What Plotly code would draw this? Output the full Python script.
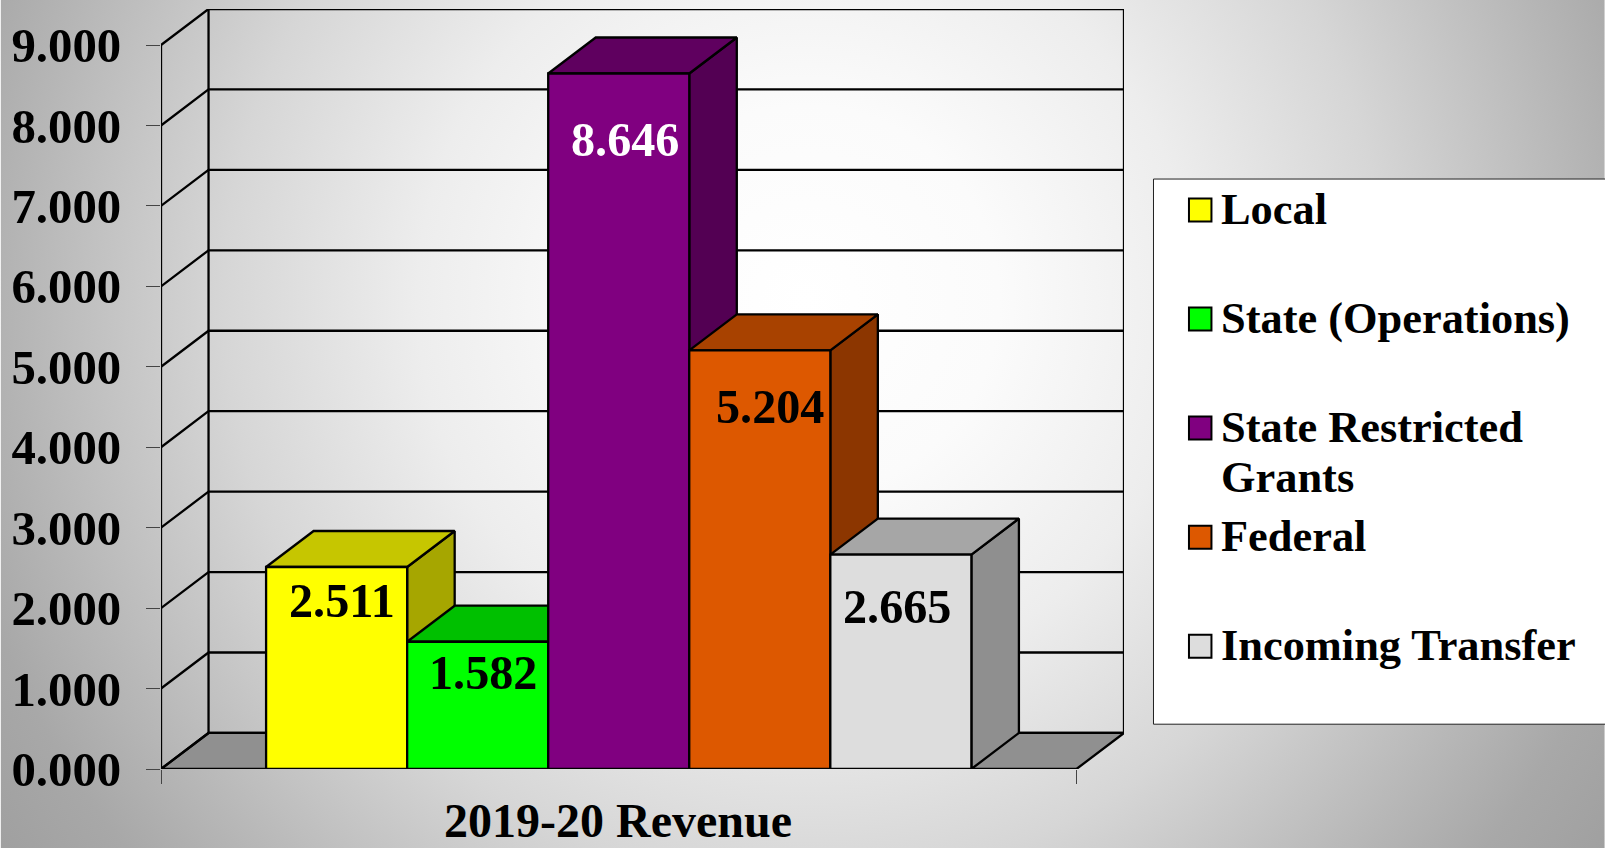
import base64
import plotly.graph_objects as go

# ---- data ----
categories = ["Local", "State (Operations)", "State Restricted Grants", "Federal", "Incoming Transfer"]
values = [2.511, 1.582, 8.646, 5.204, 2.665]
tick_values = [0, 1, 2, 3, 4, 5, 6, 7, 8, 9]
tick_labels = ["0.000", "1.000", "2.000", "3.000", "4.000", "5.000", "6.000", "7.000", "8.000", "9.000"]
axis_title = "2019-20 Revenue"

# ---- styles ----
front_colors = ["#FFFF00", "#00FF00", "#800080", "#DD5800", "#DDDDDD"]
top_colors = ["#C6C600", "#00C000", "#5F005F", "#A84200", "#A6A6A6"]
side_colors = ["#A6A600", "#00A600", "#530053", "#8C3600", "#8F8F8F"]
label_colors = ["black", "black", "white", "black", "black"]
label_shift_x = [5, 5, 6, 10, -4]
label_shift_y = [-33, -31, -66, -56, -52]
FONT = "Liberation Serif"
W, H = 1605, 848
PL, PR, PT, PB = 160.5, 1124, 9, 768.8

# axis geometry in data units (1 x unit = one bar width)
X_L, X_R = -1.245, 5.245
DX, DY = 0.337, 0.448
x_range = [X_L, X_R + DX]
y_range = [0, 9 + DY]


def px(x):
    return (x - PL) / (PR - PL)


def py(y):
    return (PB - y) / (PB - PT)


def poly(xs, ys, fill=None, color="black", width=2.3):
    return go.Scatter(x=xs, y=ys, mode="lines", line=dict(color=color, width=width),
                      fill="toself" if fill else None, fillcolor=fill, hoverinfo="skip",
                      showlegend=False, cliponaxis=False, xaxis="x", yaxis="y")


fig = go.Figure()

# floor
fig.add_trace(poly([X_L, X_R, X_R + DX, X_L + DX, X_L], [0, 0, DY, DY, 0], fill="#909090"))
# back wall, side wall and gridlines
fig.add_trace(poly([X_L, X_L], [0, 9]))
fig.add_trace(poly([X_L + DX, X_L + DX], [DY, 9 + DY]))
fig.add_trace(poly([X_R + DX, X_R + DX], [DY, 9 + DY]))
for v in tick_values:
    fig.add_trace(poly([X_L, X_L + DX, X_R + DX], [v, v + DY, v + DY]))

# depth faces, left to right
for i, v in enumerate(values):
    l, r = i - 0.5, i + 0.5
    fig.add_trace(poly([r, r + DX, r + DX, r, r], [0, DY, v + DY, v, 0], fill=side_colors[i]))
    fig.add_trace(poly([l, r, r + DX, l + DX, l], [v, v, v + DY, v + DY, v], fill=top_colors[i]))

# front faces on an overlaid pair of axes, so they cover every depth face
for i, v in enumerate(values):
    fig.add_trace(go.Bar(x=[i], y=[v], width=1, name=categories[i], marker=dict(color=front_colors[i], line=dict(color="black", width=2.3)),
                         xaxis="x2", yaxis="y2", showlegend=False, hovertemplate="%{y:.3f}<extra>" + categories[i] + "</extra>"))

annotations = []
for i, v in enumerate(values):
    annotations.append(dict(x=i, y=v, xref="x2", yref="y2", text=f"<b>{v:.3f}</b>", showarrow=False, xshift=label_shift_x[i],
                            yshift=label_shift_y[i], font=dict(family=FONT, size=48.2, color=label_colors[i])))

annotations.append(dict(x=px(618), y=py(820), xref="paper", yref="paper", xanchor="center", yanchor="middle",
                        text=f"<b>{axis_title}</b>", showarrow=False, font=dict(family=FONT, size=48, color="black")))

# legend
shapes = [dict(type="rect", xref="paper", yref="paper", x0=px(1153.5), x1=px(1610), y0=py(179), y1=py(724),
               fillcolor="white", line=dict(color="#222222", width=1), layer="below")]
legend_centers = [210, 319, 428, 537, 646]
legend_lines = [["Local"], ["State (Operations)"], ["State Restricted", "Grants"], ["Federal"], ["Incoming Transfer"]]
for i, c in enumerate(legend_centers):
    shapes.append(dict(type="rect", xref="paper", yref="paper", x0=px(1189), x1=px(1211.5), y0=py(c - 11.5), y1=py(c + 11.5),
                       fillcolor=front_colors[i], line=dict(color="black", width=2), layer="above"))
    for j, t in enumerate(legend_lines[i]):
        annotations.append(dict(x=px(1219), y=py(c - 1 + 50 * j), xref="paper", yref="paper", xanchor="left", yanchor="middle",
                                text=f"<b>{t}</b>", showarrow=False, font=dict(family=FONT, size=44.4, color="black")))

# gradient page background
svg = (f'<svg xmlns="http://www.w3.org/2000/svg" width="{W}" height="{H}"><defs>'
       '<radialGradient id="g" gradientUnits="userSpaceOnUse" cx="805" cy="300" r="970">'
       '<stop offset="0" stop-color="#FFFFFF"/><stop offset="0.2" stop-color="#FBFBFB"/>'
       '<stop offset="0.4" stop-color="#EDEDED"/><stop offset="0.6" stop-color="#D6D6D6"/>'
       '<stop offset="0.8" stop-color="#B7B7B7"/><stop offset="0.9" stop-color="#A8A8A8"/>'
       '<stop offset="1" stop-color="#A0A0A0"/></radialGradient></defs>'
       f'<rect width="{W}" height="{H}" fill="url(#g)"/></svg>')
bg = "data:image/svg+xml;base64," + base64.b64encode(svg.encode()).decode()

fig.update_layout(
    width=W, height=H, margin=dict(l=PL, r=W - PR, t=PT, b=H - PB, autoexpand=False),
    paper_bgcolor="rgba(0,0,0,0)", plot_bgcolor="rgba(0,0,0,0)", showlegend=False, barmode="overlay",
    annotations=annotations, shapes=shapes,
    images=[dict(source=bg, xref="paper", yref="paper", x=px(0), y=py(0), sizex=px(W) - px(0), sizey=py(0) - py(H),
                 sizing="stretch", xanchor="left", yanchor="top", layer="below")],
    xaxis=dict(range=x_range, showgrid=False, zeroline=False, showline=False, tickmode="array", tickvals=[X_L, X_R], ticktext=["", ""],
               ticks="outside", ticklen=14, tickwidth=1, tickcolor="#444444"),
    yaxis=dict(range=y_range, showgrid=False, zeroline=False, showline=False, tickmode="array", tickvals=tick_values, ticktext=tick_labels,
               ticks="outside", ticklen=14, tickwidth=1, tickcolor="#444444", ticklabelstandoff=15,
               tickfont=dict(family=FONT, size=48.8, color="black", weight="bold")),
    xaxis2=dict(range=x_range, overlaying="x", visible=False),
    yaxis2=dict(range=y_range, overlaying="y", visible=False),
)

fig.write_html("out.html", config={"displayModeBar": False},
               post_script="document.body.style.margin='0';document.body.style.overflow='hidden';")
